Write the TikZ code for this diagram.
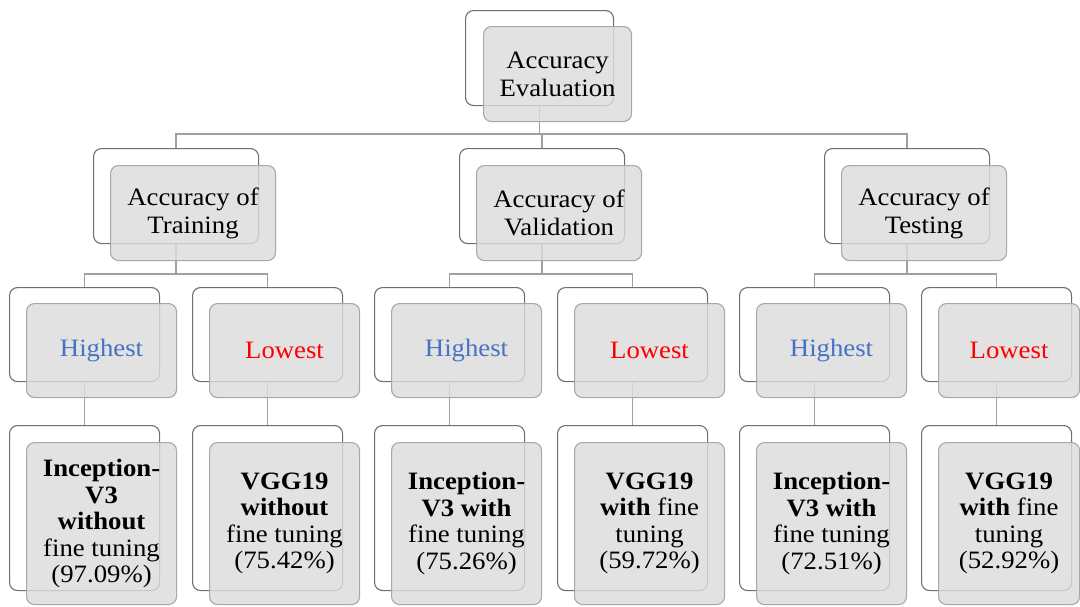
\documentclass[tikz,border=0pt]{standalone}
\usepackage{fontspec}
\setmainfont{Liberation Serif}[FakeStretch=1.07]
\definecolor{bdark}{HTML}{6E6E6E}
\definecolor{bfront}{HTML}{A8A8A8}
\definecolor{ffill}{HTML}{DCDCDC}
\definecolor{conn}{HTML}{A0A0A0}
\definecolor{hiblue}{HTML}{4472C4}
\definecolor{lored}{HTML}{FF0000}
\begin{document}
\begin{tikzpicture}[x=1pt,y={(0pt,-1pt)},
  backbox/.style={draw=bdark, fill=white, rounded corners=8pt, line width=1.1pt, inner sep=0pt, anchor=north west},
  frontbox/.style={draw=bfront, fill=ffill, fill opacity=0.82, text opacity=1, rounded corners=8pt, line width=1.1pt, inner sep=0pt, anchor=north west, align=center, text=black},
  sz1/.style={minimum width=148pt, minimum height=95pt},
  sz2/.style={minimum width=165pt, minimum height=95pt},
  sz3/.style={minimum width=150pt, minimum height=94pt},
  sz4/.style={minimum width=150pt, minimum height=165pt},
  sz4f/.style={minimum width=150pt, minimum height=162pt},
  txt/.style={font=\fontsize{25}{28}\selectfont},
  leaftxt/.style={font=\fontsize{25}{26.5}\selectfont},
  conline/.style={draw=conn, line width=1.6pt}
]
\useasboundingbox (0,0) rectangle (1080,606);

% ---------- back boxes ----------
\node[backbox,sz1] (Tb) at (465,10) {};
\node[backbox,sz2] (Ab) at (93,148) {};
\node[backbox,sz2] (Bb) at (459,148) {};
\node[backbox,sz2] (Cb) at (824,148) {};
\foreach \nm/\xx in {A1/9, A2/192, B1/374, B2/557, C1/739, C2/921}{
  \node[backbox,sz3] (\nm b) at (\xx,287) {};
  \node[backbox,sz4] (\nm lb) at (\xx,425) {};
}

% ---------- connectors ----------
\draw[conline] (Tb.south) -- ++(0,28) -| (Ab.north);
\draw[conline] (Tb.south) -- ++(0,28) -| (Bb.north);
\draw[conline] (Tb.south) -- ++(0,28) -| (Cb.north);
\foreach \p in {A,B,C}{
  \draw[conline] (\p b.south) -- ++(0,30) -| (\p 1b.north);
  \draw[conline] (\p b.south) -- ++(0,30) -| (\p 2b.north);
  \draw[conline] (\p 1b.south) -- (\p 1lb.north);
  \draw[conline] (\p 2b.south) -- (\p 2lb.north);
}

% ---------- front boxes ----------
\node[frontbox,sz1,txt] (T) at (483,26) {Accuracy\\Evaluation};
\node[frontbox,sz2,txt] (A) at (110,165) {Accuracy of\\Training};
\node[frontbox,sz2,txt] (B) at (476,165) {Accuracy of\\Validation};
\node[frontbox,sz2,txt] (C) at (841,165) {Accuracy of\\Testing};

\node[frontbox,sz3,txt,text=hiblue] (A1) at (26,303) {Highest};
\node[frontbox,sz3,txt,text=lored] (A2) at (209,303) {Lowest};
\node[frontbox,sz3,txt,text=hiblue] (B1) at (391,303) {Highest};
\node[frontbox,sz3,txt,text=lored] (B2) at (574,303) {Lowest};
\node[frontbox,sz3,txt,text=hiblue] (C1) at (756,303) {Highest};
\node[frontbox,sz3,txt,text=lored,minimum width=141pt] (C2) at (938,303) {Lowest};

\node[frontbox,sz4f,leaftxt] (A1l) at (26,442) {\textbf{Inception-}\\\textbf{V3}\\\textbf{without}\\fine tuning\\(97.09\%)};
\node[frontbox,sz4f,leaftxt] (A2l) at (209,442) {\textbf{VGG19}\\\textbf{without}\\fine tuning\\(75.42\%)};
\node[frontbox,sz4f,leaftxt] (B1l) at (391,442) {\textbf{Inception-}\\\textbf{V3 with}\\fine tuning\\(75.26\%)};
\node[frontbox,sz4f,leaftxt] (B2l) at (574,442) {\textbf{VGG19}\\\textbf{with} fine\\tuning\\(59.72\%)};
\node[frontbox,sz4f,leaftxt] (C1l) at (756,442) {\textbf{Inception-}\\\textbf{V3 with}\\fine tuning\\(72.51\%)};
\node[frontbox,sz4f,leaftxt,minimum width=141pt] (C2l) at (938,442) {\textbf{VGG19}\\\textbf{with} fine\\tuning\\(52.92\%)};
\end{tikzpicture}
\end{document}
